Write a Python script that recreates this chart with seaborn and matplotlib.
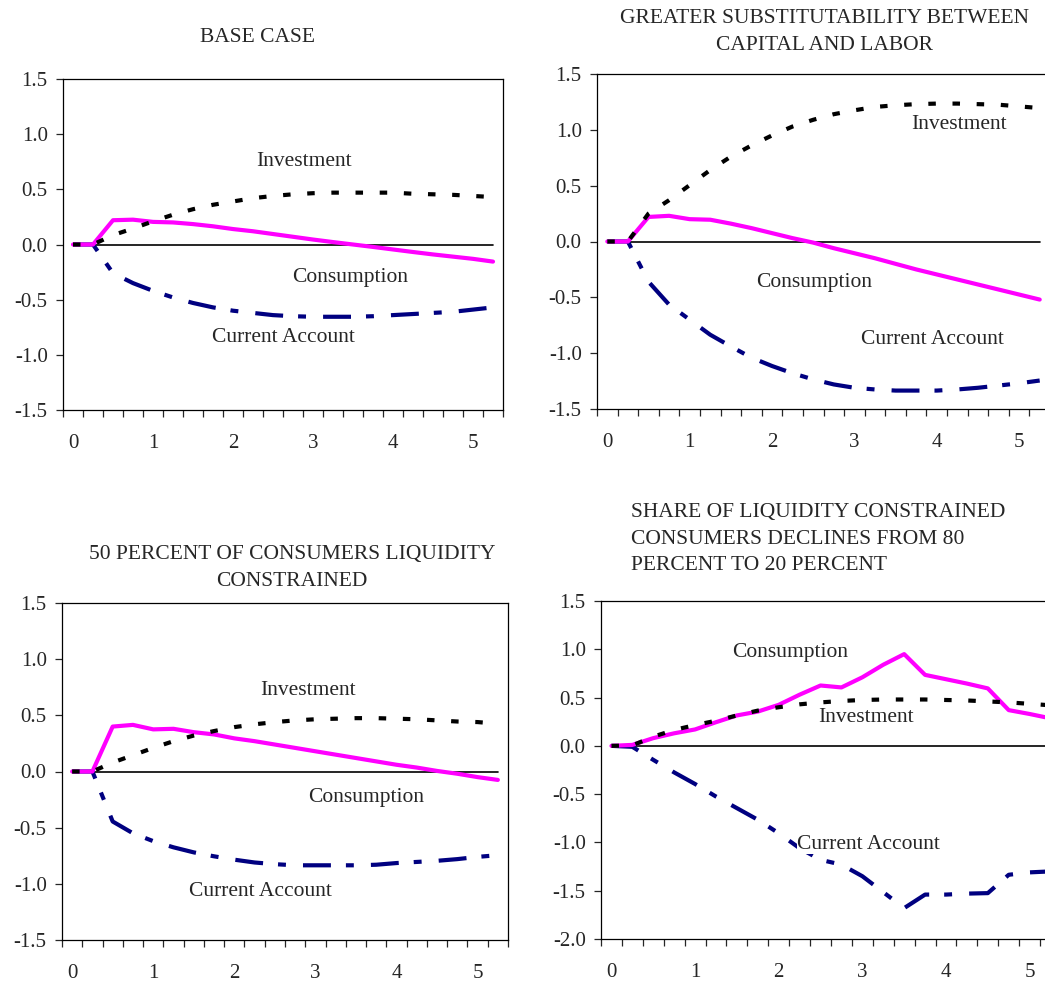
import matplotlib.pyplot as plt
import numpy as np
import pandas as pd
import seaborn as sns

# years after shock, quarterly
years = [0.0, 0.25, 0.5, 0.75, 1.0, 1.25, 1.5, 1.75, 2.0, 2.25, 2.5,
         2.75, 3.0, 3.25, 3.5, 3.75, 4.0, 4.25, 4.5, 4.75, 5.0, 5.25]

# base case
base_inv = [0, 0, 0.085, 0.145, 0.21, 0.27, 0.32, 0.36, 0.39, 0.42, 0.44,
            0.455, 0.465, 0.47, 0.47, 0.47, 0.47, 0.46, 0.455, 0.45, 0.44, 0.43]
base_cons = [0, 0, 0.22, 0.225, 0.205, 0.2, 0.185, 0.165, 0.14, 0.12, 0.095,
             0.07, 0.045, 0.022, 0.0, -0.022, -0.045, -0.068, -0.09, -0.11,
             -0.13, -0.155]
base_ca = [0, 0, -0.26, -0.35, -0.42, -0.48, -0.53, -0.57, -0.6, -0.62, -0.64,
           -0.65, -0.655, -0.655, -0.655, -0.65, -0.64, -0.63, -0.62, -0.61,
           -0.59, -0.57]

# greater substitutability
subst_inv = [0, 0, 0.25, 0.37, 0.505, 0.64, 0.76, 0.86, 0.95, 1.03, 1.09,
             1.14, 1.175, 1.205, 1.22, 1.23, 1.235, 1.235, 1.23, 1.225,
             1.21, 1.195]
subst_cons = [0, 0, 0.22, 0.23, 0.2, 0.195, 0.16, 0.12, 0.075, 0.03, -0.01,
              -0.06, -0.105, -0.15, -0.2, -0.25, -0.295, -0.34, -0.385,
              -0.43, -0.475, -0.52]
subst_ca = [0, 0, -0.36, -0.565, -0.7, -0.835, -0.94, -1.04, -1.115, -1.18,
            -1.235, -1.28, -1.31, -1.325, -1.335, -1.335, -1.335, -1.325,
            -1.31, -1.29, -1.27, -1.245]

# 50 percent liquidity constrained
liq_inv = [0, 0, 0.08, 0.145, 0.21, 0.27, 0.32, 0.36, 0.395, 0.42, 0.44,
           0.455, 0.465, 0.47, 0.475, 0.475, 0.47, 0.465, 0.455, 0.445,
           0.44, 0.425]
liq_cons = [0, 0, 0.4, 0.415, 0.375, 0.38, 0.35, 0.33, 0.295, 0.27, 0.24,
            0.21, 0.18, 0.15, 0.12, 0.09, 0.06, 0.035, 0.005, -0.02, -0.05,
            -0.075]
liq_ca = [0, 0, -0.445, -0.55, -0.62, -0.675, -0.72, -0.755, -0.785, -0.81,
          -0.825, -0.835, -0.835, -0.835, -0.835, -0.83, -0.815, -0.805,
          -0.795, -0.78, -0.76, -0.745]

# share constrained declines 80 -> 20 percent
decl_inv = [0, 0.005, 0.095, 0.165, 0.215, 0.26, 0.315, 0.365, 0.4, 0.43,
            0.45, 0.465, 0.475, 0.48, 0.48, 0.48, 0.475, 0.47, 0.46, 0.45,
            0.435, 0.42]
decl_cons = [0, 0.01, 0.08, 0.13, 0.17, 0.245, 0.315, 0.355, 0.425, 0.53,
             0.625, 0.605, 0.71, 0.84, 0.95, 0.735, 0.69, 0.645, 0.595, 0.37,
             0.33, 0.285]
decl_ca = [0, -0.01, -0.145, -0.275, -0.395, -0.525, -0.645, -0.765, -0.905,
           -1.06, -1.18, -1.23, -1.35, -1.515, -1.68, -1.54, -1.54, -1.53,
           -1.525, -1.335, -1.31, -1.3]

titles = ['BASE CASE',
          'GREATER SUBSTITUTABILITY BETWEEN\nCAPITAL AND LABOR',
          '50 PERCENT OF CONSUMERS LIQUIDITY\nCONSTRAINED',
          'SHARE OF LIQUIDITY CONSTRAINED\nCONSUMERS DECLINES FROM 80\n'
          'PERCENT TO 20 PERCENT']

W, H = 1045, 982
sns.set_style('white')
plt.rcParams['font.family'] = ['Liberation Serif', 'DejaVu Serif']

fig = plt.figure(figsize=(W / 100, H / 100), dpi=100)


def px_axes(left, top, right, bottom):
    return fig.add_axes([left / W, 1 - bottom / H, (right - left) / W,
                         (bottom - top) / H])


panels = [
    dict(box=(63, 79, 503, 410), ylim=(-1.5, 1.5),
         inv=base_inv, cons=base_cons, ca=base_ca,
         labels=[('Investment', 2.89, 0.75), ('Consumption', 3.46, -0.30),
                 ('Current Account', 2.63, -0.84)]),
    dict(box=(597, 74, 1050, 409), ylim=(-1.5, 1.5),
         inv=subst_inv, cons=subst_cons, ca=subst_ca,
         labels=[('Investment', 4.27, 1.05), ('Consumption', 2.51, -0.37),
                 ('Current Account', 3.95, -0.88)]),
    dict(box=(62, 603, 508, 940), ylim=(-1.5, 1.5),
         inv=liq_inv, cons=liq_cons, ca=liq_ca,
         labels=[('Investment', 2.91, 0.72), ('Consumption', 3.62, -0.23),
                 ('Current Account', 2.32, -1.07)]),
    dict(box=(601, 601, 1061, 939), ylim=(-2.0, 1.5),
         inv=decl_inv, cons=decl_cons, ca=decl_ca,
         labels=[('Consumption', 2.14, 0.965), ('Investment', 3.04, 0.29),
                 ('Current Account', 3.07, -1.02)]),
]

for p in panels:
    ax = px_axes(*p['box'])
    df = pd.DataFrame({'year': years, 'inv': p['inv'],
                       'cons': p['cons'], 'ca': p['ca']})
    ax.plot(years, [0] * len(years), color='black', lw=1.2, zorder=1)
    sns.lineplot(data=df, x='year', y='ca', ax=ax, color='#000080', lw=3,
                 linestyle=(0, (6.7, 3.6, 1.9, 4.1)), zorder=2)
    sns.lineplot(data=df, x='year', y='cons', ax=ax, color='#FF00FF', lw=3,
                 zorder=3)
    sns.lineplot(data=df, x='year', y='inv', ax=ax, color='black', lw=3,
                 linestyle=(0, (1.8, 4.0)), zorder=4)
    for txt, x, y in p['labels']:
        ax.text(x, y, txt, ha='center', va='center', fontsize=15.5, zorder=5,
                bbox=dict(facecolor='white', edgecolor='none', pad=0))
    lo, hi = p['ylim']
    ax.set_xlim(-0.125, 5.375)
    ax.set_ylim(lo, hi)
    ax.set_yticks(np.arange(lo, hi + 0.01, 0.5))
    ax.set_yticklabels([f'{v:.1f}' for v in np.arange(lo, hi + 0.01, 0.5)])
    ax.set_xticks([0, 1, 2, 3, 4, 5])
    ax.set_xticks([b - 0.125 for b in years] + [5.375], minor=True)
    ax.tick_params(axis='x', which='major', length=0, pad=17, labelsize=15)
    ax.tick_params(axis='x', which='minor', length=5, width=0.9,
                   direction='out', bottom=True)
    ax.tick_params(axis='y', length=5, width=0.9, direction='out', left=True,
                   labelsize=15, pad=6)
    ax.set_xlabel('')
    ax.set_ylabel('')
    for s in ax.spines.values():
        s.set_color('black')
        s.set_linewidth(0.9)

fig.text(257 / W, 1 - 38 / H, titles[0], ha='center', va='center',
         fontsize=15.5)
fig.text(825 / W, 1 - 32 / H, titles[1], ha='center', va='center',
         fontsize=15.5, linespacing=1.6)
fig.text(292 / W, 1 - 568 / H, titles[2], ha='center', va='center',
         fontsize=15.5, linespacing=1.6)
fig.text(631 / W, 1 - 539 / H, titles[3], ha='left', va='center',
         fontsize=15.5, linespacing=1.55)

fig.savefig('out.png', dpi=100)
